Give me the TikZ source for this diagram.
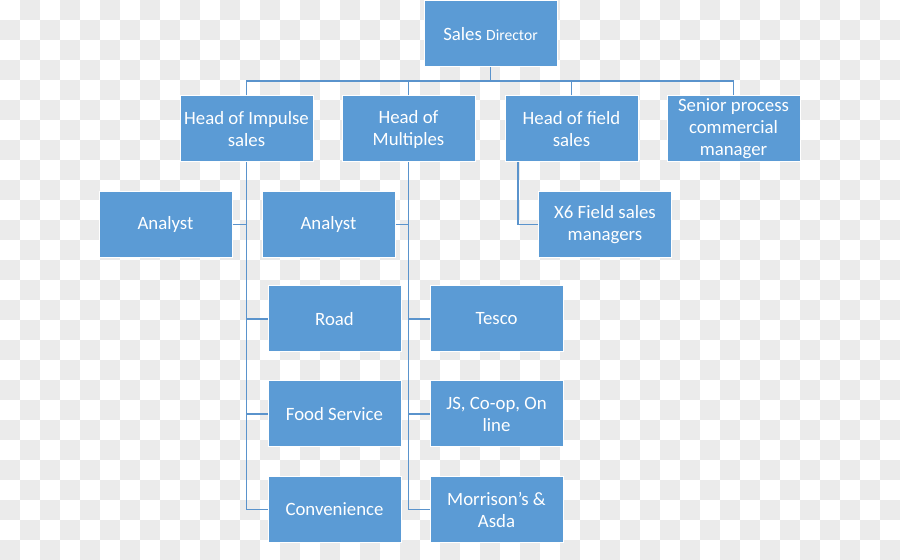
\documentclass[tikz,border=0pt]{standalone}
\usepackage{fontspec}
\setmainfont{Carlito}
\usepackage{tikz}
\usetikzlibrary{positioning}
\definecolor{Check}{HTML}{EBEBEB}
\definecolor{Box}{HTML}{5B9BD5}
\definecolor{Wire}{HTML}{5A93CC}

\begin{document}
\begin{tikzpicture}[
  x=0.5pt,y=-0.5pt,
  unit/.style={draw=white,line width=0.5pt,fill=Box,text=white,
    minimum width=66.5pt,minimum height=33pt,inner sep=0pt,align=center,
    font=\fontsize{9.4}{11}\selectfont},
  link/.style={draw=Wire,line width=0.85pt}
]
\useasboundingbox (0,0) rectangle (900,560);
% Transparency checkerboard.
\foreach \i in {0,2,...,44}
  \foreach \j in {1,3,...,27}
    \fill[Check] (\i*20,\j*20) rectangle ++(20,20);
\foreach \i in {1,3,...,43}
  \foreach \j in {0,2,...,26}
    \fill[Check] (\i*20,\j*20) rectangle ++(20,20);

% Boxes.
\node[unit] (dir) at (490.5,34) {Sales {\fontsize{7.8}{9}\selectfont Director}};
\node[unit] (imp) at (246.5,129) {Head of Impulse\\sales};
\node[unit] (mul) at (408.5,129) {Head of\\Multiples};
\node[unit] (fld) at (571.5,129) {Head of field\\sales};
\node[unit] (spm) at (733.5,129) {Senior process\\commercial\\manager};
\node[unit] (an1) at (165.5,224.5) {Analyst};
\node[unit] (an2) at (328.5,224.5) {Analyst};
\node[unit] (x6) at (605,224.5) {X6 Field sales\\managers};
\node[unit] (road) at (334.5,319) {Road};
\node[unit] (food) at (334.5,414) {Food Service};
\node[unit] (conv) at (334.5,509.5) {Convenience};
\node[unit] (tesco) at (496.5,319) {Tesco};
\node[unit] (js) at (496.5,414) {JS, Co-op, On\\line};
\node[unit] (morr) at (496.5,509.5) {Morrison’s \&\\Asda};

% Connectors.
\coordinate (bus) at (490.5,81);
\coordinate (fldleg) at (518,162);
\draw[link] (dir.south) -- (bus);
\draw[link] (imp.north) |- (bus) -| (spm.north);
\draw[link] (mul.north) -- (mul.north |- bus);
\draw[link] (fld.north) -- (fld.north |- bus);
\draw[link] (imp.south) -- (imp.south |- conv.west) -- (conv.west);
\draw[link] (an1.east) -- (imp.south |- an1.east);
\draw[link] (road.west) -- (imp.south |- road.west);
\draw[link] (food.west) -- (imp.south |- food.west);
\draw[link] (mul.south) -- (mul.south |- morr.west) -- (morr.west);
\draw[link] (an2.east) -- (mul.south |- an2.east);
\draw[link] (tesco.west) -- (mul.south |- tesco.west);
\draw[link] (js.west) -- (mul.south |- js.west);
\draw[link] (fldleg) |- (x6.west);
\end{tikzpicture}
\end{document}
